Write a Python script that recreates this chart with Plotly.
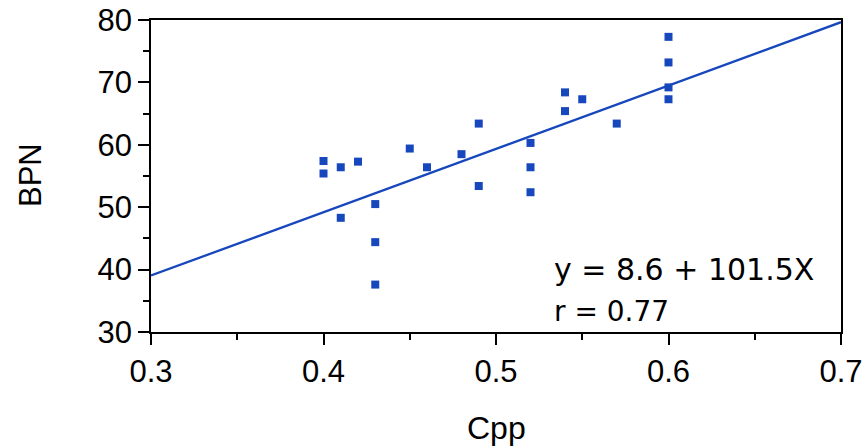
import plotly.graph_objects as go

cpp = [0.40, 0.40, 0.41, 0.41, 0.42, 0.43, 0.43, 0.43, 0.45, 0.46, 0.48, 0.49, 0.49,
       0.52, 0.52, 0.52, 0.54, 0.54, 0.55, 0.57, 0.60, 0.60, 0.60, 0.60]
bpn = [57.4, 55.4, 56.4, 48.3, 57.3, 50.5, 44.4, 37.6, 59.4, 56.4, 58.5, 63.4, 53.4,
       60.3, 56.4, 52.4, 68.4, 65.4, 67.3, 63.4, 77.3, 73.2, 69.2, 67.3]
intercept = 8.6
slope = 101.5
r_value = 0.77
fit_x = [0.3, 0.7]
fit_y = [intercept + slope * x for x in fit_x]

blue = "#1747bd"
font = "Liberation Sans, Arial, sans-serif"
eqfont = "DejaVu Sans, sans-serif"

W, H = 865, 448
L, T = 151, 20
R = W - 841
B = H - 332
pw, ph = W - L - R, H - T - B


def px(xp):
    return (xp - L) / pw


def py(yp):
    return 1 - (yp - T) / ph


fig = go.Figure()
fig.add_trace(go.Scatter(x=fit_x, y=fit_y, mode="lines",
                         line=dict(color=blue, width=2.3), showlegend=False))
fig.add_trace(go.Scatter(x=cpp, y=bpn, mode="markers",
                         marker=dict(symbol="square", size=8, color=blue),
                         showlegend=False))

fig.add_annotation(x=px(552), y=py(269), xref="paper", yref="paper", showarrow=False,
                   text=f"y = {intercept} + {slope}X",
                   font=dict(family=eqfont, size=30, color="black"),
                   xanchor="left", yanchor="middle")
fig.add_annotation(x=px(552), y=py(311), xref="paper", yref="paper", showarrow=False,
                   text=f"r = {r_value}",
                   font=dict(family=eqfont, size=28, color="black"),
                   xanchor="left", yanchor="middle")
fig.add_annotation(x=px(30), y=py(175), xref="paper", yref="paper",
                   showarrow=False, text="BPN", textangle=-90,
                   font=dict(family=font, size=31, color="black"),
                   xanchor="center", yanchor="middle")
fig.add_annotation(x=px(496), y=py(428), xref="paper", yref="paper",
                   showarrow=False, text="Cpp",
                   font=dict(family=font, size=32, color="black"),
                   xanchor="center", yanchor="middle")

fig.update_layout(
    width=W, height=H,
    margin=dict(l=L, r=R, t=T, b=B),
    paper_bgcolor="white", plot_bgcolor="white",
    font=dict(family=font, size=31, color="black"),
)
fig.update_xaxes(range=[0.3, 0.7], tickvals=[0.3, 0.4, 0.5, 0.6, 0.7],
                 ticktext=["0.3", "0.4", "0.5", "0.6", "0.7"], automargin=False,
                 showgrid=False, zeroline=False, showline=True, linecolor="black",
                 linewidth=1.5, mirror=True, ticks="outside", ticklen=11, tickwidth=1.5,
                 tickcolor="black",
                 minor=dict(tickvals=[0.35, 0.45, 0.55, 0.65], ticks="outside", ticklen=6,
                            tickwidth=1.5, tickcolor="black"),
                 tickfont=dict(size=31))
fig.update_yaxes(range=[30, 80], tickvals=[30, 40, 50, 60, 70, 80], automargin=False,
                 showgrid=False, zeroline=False, showline=True, linecolor="black",
                 linewidth=1.5, mirror=True, ticks="outside", ticklen=11, tickwidth=1.5,
                 tickcolor="black",
                 minor=dict(tickvals=[35, 45, 55, 65, 75], ticks="outside", ticklen=6,
                            tickwidth=1.5, tickcolor="black"),
                 tickfont=dict(size=31))

fig.write_html("out.html", config={"displayModeBar": False},
               post_script="document.body.style.margin='0';document.body.style.overflow='hidden';")
